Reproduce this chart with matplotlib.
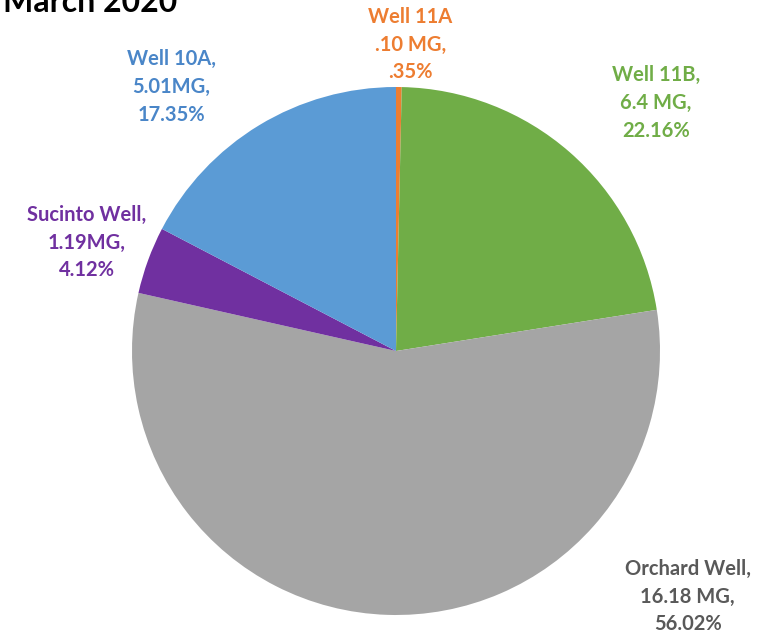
import matplotlib
matplotlib.use("Agg")
import matplotlib.pyplot as plt

# well production, million gallons (clockwise from 12 o'clock)
wells = ["Well 11A", "Well 11B", "Orchard Well", "Sucinto Well", "Well 10A"]
mg = [0.10, 6.4, 16.18, 1.19, 5.01]
mg_text = [".10 MG,", "6.4 MG,", "16.18 MG,", "1.19MG,", "5.01MG,"]
pct_text = [".35%", "22.16%", "56.02%", "4.12%", "17.35%"]
name_sep = ["", ",", ",", ",", ","]

colors = ["#ED7D31", "#70AD47", "#A5A5A5", "#7030A0", "#5B9BD5"]
text_colors = ["#ED7D31", "#70AD47", "#595959", "#7030A0", "#4A86C8"]
label_pos = [(0.055, 1.16), (0.985, 0.94), (1.105, -0.93), (-1.17, 0.41), (-0.85, 1.0)]

plt.rcParams['font.family'] = ['Lato', 'DejaVu Sans']

fig = plt.figure(figsize=(7.65, 6.37), dpi=100)
ax = fig.add_axes([132/765, 22/637, 528/765, 528/637])
ax.pie(mg, colors=colors, startangle=90, counterclock=False, radius=1.0,
       wedgeprops=dict(linewidth=0))
ax.set_xlim(-1, 1)
ax.set_ylim(-1, 1)
ax.set_aspect("equal")
ax.axis("off")

for name, sep, m, p, c, (x, y) in zip(wells, name_sep, mg_text, pct_text, text_colors, label_pos):
    ax.text(x, y, f"{name}{sep}\n{m}\n{p}", color=c, fontsize=14.5, fontweight="bold",
            ha="center", va="center", linespacing=1.48, clip_on=False)

fig.text(3/765, 1 - 12/637, "March 2020", fontsize=23, fontweight="bold",
         color="black", ha="left", va="baseline")

fig.savefig("out.png", dpi=100)
